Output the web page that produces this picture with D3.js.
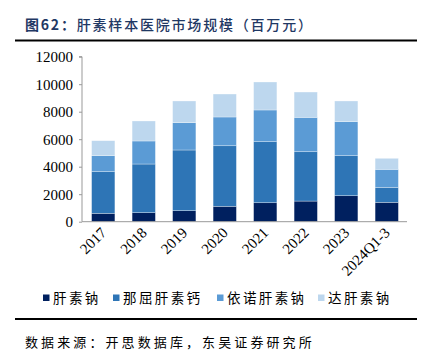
<!DOCTYPE html>
<html><head><meta charset="utf-8">
<script src="https://cdn.jsdelivr.net/npm/d3@7"></script>
<style>body{margin:0;background:#fff}svg{display:block}</style>
</head><body>
<script>
const categories = ["2017","2018","2019","2020","2021","2022","2023","2024Q1-3"];
const seriesNames = ["肝素钠","那屈肝素钙","依诺肝素钠","达肝素钠"];
const heparinSodium = [610, 655, 800, 1120, 1380, 1500, 1890, 1410];
const nadroparin    = [3030, 3540, 4415, 4405, 4440, 3590, 2910, 1090];
const enoxaparin    = [1160, 1675, 1985, 2090, 2305, 2500, 2475, 1310];
const dalteparin    = [1090, 1455, 1580, 1670, 2035, 1840, 1505, 800];
const yTicks = [0,2000,4000,6000,8000,10000,12000];
const colors = ["#00205F","#2E75B6","#5B9BD5","#BDD7EE"];

const W=432,H=353;
const svg=d3.select("body").append("svg").attr("width",W).attr("height",H);
const cjk="'Noto Sans CJK SC','Noto Sans',sans-serif";
const serif="'Liberation Serif','DejaVu Serif',serif";

// title
const t=svg.append("text").attr("x",25).attr("y",30).attr("fill","#1F3864")
  .style("font-family",cjk).style("font-size","14px").style("letter-spacing","1.8px");
t.append("tspan").text("图62：").style("font-weight","bold");
t.append("tspan").text("肝素样本医院市场规模（百万元）").style("font-weight","500");
svg.append("line").attr("x1",15).attr("x2",417).attr("y1",40.5).attr("y2",40.5).attr("stroke","#000").attr("stroke-width",2);

const x=d3.scaleBand().domain(categories).range([83,407]).paddingInner(0.425).paddingOuter(0.2125);
const y=d3.scaleLinear().domain([0,12000]).range([221.7,56.7]);

const rows=categories.map((c,i)=>({cat:c,"肝素钠":heparinSodium[i],"那屈肝素钙":nadroparin[i],"依诺肝素钠":enoxaparin[i],"达肝素钠":dalteparin[i]}));
const stack=d3.stack().keys(seriesNames)(rows);

svg.append("g").selectAll("g").data(stack).join("g").attr("fill",(d,i)=>colors[i])
  .selectAll("rect").data(d=>d).join("rect")
  .attr("x",d=>x(d.data.cat)).attr("width",x.bandwidth())
  .attr("y",d=>y(d[1])).attr("height",d=>y(d[0])-y(d[1]))
  .attr("stroke","#fff").attr("stroke-opacity",0.5).attr("stroke-width",0.6);

// y axis
const ya=svg.append("g").attr("transform","translate(82,0)").call(d3.axisLeft(y).tickValues(yTicks).tickSize(3).tickPadding(6).tickFormat(d3.format("d")));
ya.select(".domain").attr("stroke","#999").attr("d","M-3,56.7H0V221.7");
ya.selectAll(".tick line").attr("stroke","#999");
ya.selectAll("text").style("font-family",serif).style("font-size","15px").attr("fill","#000");

// x axis
const xa=svg.append("g").attr("transform","translate(0,221.7)").call(d3.axisBottom(x).tickSize(0).tickPadding(0));
xa.select(".domain").attr("stroke","#999").attr("d","M82,0H407");
xa.selectAll("text").style("font-family",serif).style("font-size","15px").attr("fill","#000")
  .attr("text-anchor","end").attr("dy","0").attr("transform",function(){return "translate(4,12) rotate(-45)";});

// legend
const lx=[43,113,217,318];
const lg=svg.append("g");
seriesNames.forEach((n,i)=>{
  lg.append("rect").attr("x",lx[i]).attr("y",294.5).attr("width",6.5).attr("height",6.5).attr("fill",colors[i]);
  lg.append("text").attr("x",lx[i]+10).attr("y",302.5).text(n).style("font-family",cjk).style("font-size","13.5px").style("letter-spacing","2.4px").attr("fill","#000");
});
svg.append("line").attr("x1",15).attr("x2",417).attr("y1",319).attr("y2",319).attr("stroke","#000").attr("stroke-width",2);
svg.append("text").attr("x",25).attr("y",346.5).text("数据来源：开思数据库，东吴证券研究所")
  .style("font-family",cjk).style("font-size","13px").style("letter-spacing","3.1px").attr("fill","#000");
</script>
</body></html>
